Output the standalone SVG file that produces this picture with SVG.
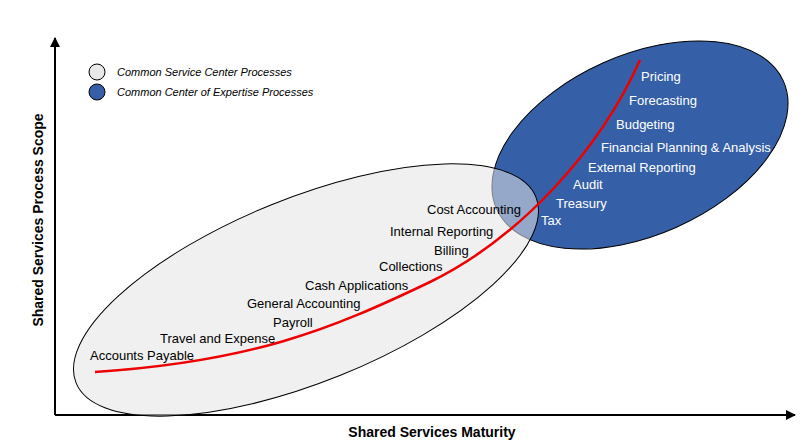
<svg xmlns="http://www.w3.org/2000/svg" width="807" height="447" viewBox="0 0 807 447">
<style>
.t{font-family:"Liberation Sans",Arial,sans-serif;font-size:13px;fill:#000}
.w{font-family:"Liberation Sans",Arial,sans-serif;font-size:13px;fill:#fff}
.lg{font-family:"Liberation Sans",Arial,sans-serif;font-size:11px;font-style:italic;fill:#000}
.ax{font-family:"Liberation Sans",Arial,sans-serif;font-size:14px;font-weight:bold;fill:#000}
</style>
<defs>
<marker id="ar" markerWidth="10" markerHeight="10" refX="9" refY="5" orient="auto" markerUnits="userSpaceOnUse"><path d="M0,0 L10,5 L0,10 Z" fill="#000"/></marker>
</defs>
<rect width="807" height="447" fill="#fff"/>
<g id="axes" stroke="#000" stroke-width="2">
<line x1="55" y1="415" x2="55" y2="38" marker-end="url(#ar)"/>
<line x1="55" y1="415" x2="795" y2="415" marker-end="url(#ar)"/>
</g>
<g id="expertise"><ellipse cx="640" cy="145" rx="157" ry="90" transform="rotate(-24 640 145)" fill="#3560a8" stroke="#000" stroke-width="1"/></g>
<g id="service"><ellipse cx="306" cy="290" rx="248" ry="92" transform="rotate(-22 306 290)" fill="#e4e4e4" fill-opacity="0.55" stroke="#000" stroke-width="1"/></g>
<g id="connectors"><path d="M95,372 C250,362 330,330 430,282 C520,238 600,150 640,60" fill="none" stroke="#e00" stroke-width="2.5"/></g>
<g id="legend">
<circle cx="97" cy="72" r="8" fill="#e8e8e8" stroke="#000"/>
<text class="lg" x="117" y="76">Common Service Center Processes</text>
<circle cx="97" cy="92" r="8" fill="#3560a8" stroke="#000"/>
<text class="lg" x="117" y="96">Common Center of Expertise Processes</text>
</g>
<g id="labels">
<text class="t" x="90" y="360">Accounts Payable</text>
<text class="t" x="160" y="343">Travel and Expense</text>
<text class="t" x="273" y="327">Payroll</text>
<text class="t" x="247" y="308">General Accounting</text>
<text class="t" x="305" y="290">Cash Applications</text>
<text class="t" x="379" y="271">Collections</text>
<text class="t" x="434" y="255">Billing</text>
<text class="t" x="390" y="236">Internal Reporting</text>
<text class="t" x="427" y="214">Cost Accounting</text>
<text class="w" x="541" y="225">Tax</text>
<text class="w" x="556" y="208">Treasury</text>
<text class="w" x="573" y="189">Audit</text>
<text class="w" x="588" y="172">External Reporting</text>
<text class="w" x="601" y="152">Financial Planning &amp; Analysis</text>
<text class="w" x="616" y="129">Budgeting</text>
<text class="w" x="629" y="105">Forecasting</text>
<text class="w" x="641" y="81">Pricing</text>
</g>
<text class="ax" x="432" y="437" text-anchor="middle">Shared Services Maturity</text>
<text class="ax" x="43" y="220" text-anchor="middle" transform="rotate(-90 43 220)">Shared Services Process Scope</text>
</svg>
